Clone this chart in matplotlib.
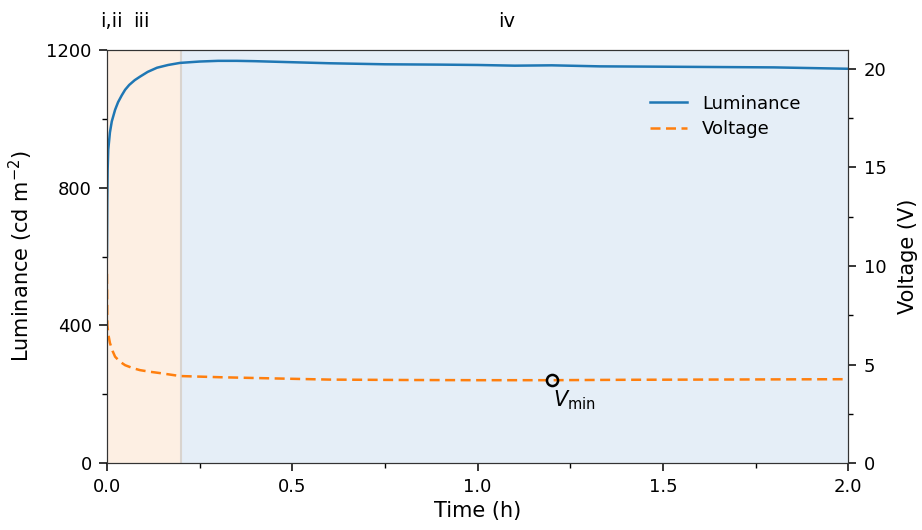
import matplotlib.pyplot as plt
from matplotlib.ticker import MultipleLocator

# luminance trace (cd m^-2)
t_lum = [0.0, 0.0008, 0.0018, 0.0035, 0.008, 0.013, 0.022, 0.03, 0.04, 0.049, 0.06, 0.075,
         0.089, 0.11, 0.135, 0.165, 0.197, 0.25, 0.3, 0.35, 0.4, 0.5, 0.6, 0.75, 0.9,
         1.0, 1.1, 1.2, 1.33, 1.5, 1.65, 1.8, 1.9, 2.0]
lum = [600, 760, 850, 910, 960, 992, 1026, 1048, 1068, 1084, 1098, 1112,
       1122, 1136, 1148, 1156, 1162, 1166, 1168, 1168, 1167, 1164, 1161, 1158, 1157,
       1156, 1154, 1155, 1152, 1151, 1150, 1149, 1147, 1145]

# voltage trace (V)
t_v = [0.0, 0.0005, 0.001, 0.004, 0.008, 0.015, 0.022, 0.035, 0.049, 0.07, 0.089, 0.115,
       0.143, 0.197, 0.305, 0.4, 0.6, 0.8, 1.0, 1.2, 1.4, 1.6, 1.8, 2.0]
volt = [9.6, 8.2, 7.0, 6.5, 6.1, 5.7, 5.4, 5.15, 4.97, 4.82, 4.72, 4.64,
        4.57, 4.42, 4.36, 4.32, 4.24, 4.22, 4.21, 4.21, 4.23, 4.24, 4.25, 4.26]

t_vmin, v_vmin = 1.2, 4.21
stage_labels = ['i,ii', 'iii', 'iv']
stage_pos = [0.013, 0.094, 1.077]

fig, ax = plt.subplots(figsize=(9.22, 5.3), dpi=100)
fig.subplots_adjust(left=0.116, right=0.92, top=0.906, bottom=0.126)

ax.axvspan(0, 0.2, facecolor='#fdefe3', edgecolor='none', zorder=0)
ax.axvspan(0.2, 2.0, facecolor='#e5eef7', edgecolor='none', zorder=0)
ax.axvline(0.2, color='#d9d4cf', lw=1.5, zorder=0.5)

l1, = ax.plot(t_lum, lum, color='#1f77b4', lw=1.8, label='Luminance')
ax.set_xlim(0, 2.0)
ax.set_ylim(0, 1200)
ax.set_xticks([0, 0.5, 1.0, 1.5, 2.0])
ax.xaxis.set_minor_locator(MultipleLocator(0.25))
ax.set_yticks([0, 400, 800, 1200])
ax.yaxis.set_minor_locator(MultipleLocator(200))
ax.set_xlabel('Time (h)', fontsize=15, labelpad=3)
ax.set_ylabel('Luminance (cd m$^{-2}$)', fontsize=15, labelpad=8)

ax2 = ax.twinx()
l2, = ax2.plot(t_v, volt, color='#ff7f0e', lw=1.8, ls='--', dashes=(4, 2.2), label='Voltage')
ax2.plot([t_vmin], [v_vmin], 'o', mfc='none', mec='black', mew=1.8, ms=8)
ax2.annotate('$V_\\mathrm{min}$', (t_vmin, v_vmin), xytext=(1, -6), textcoords='offset points',
             ha='left', va='top', fontsize=15)
ax2.set_ylim(0, 20.96)
ax2.set_yticks([0, 5, 10, 15, 20])
ax2.yaxis.set_minor_locator(MultipleLocator(2.5))
ax2.set_ylabel('Voltage (V)', fontsize=15, labelpad=8)

for a in (ax, ax2):
    a.tick_params(which='major', length=6, width=1.1, pad=5, labelsize=13)
    a.tick_params(which='minor', length=3.5, width=1.0)
    for sp in a.spines.values():
        sp.set_color('#333333')

for s, x in zip(stage_labels, stage_pos):
    ax.text(x, 1.056, s, transform=ax.get_xaxis_transform(), ha='center', va='baseline', fontsize=14)

ax2.legend(handles=[l1, l2], loc='center left', bbox_to_anchor=(0.71, 0.839), frameon=False,
           fontsize=13, handlelength=2.1, handletextpad=0.8, labelspacing=0.4)

fig.savefig('out.png', dpi=100)
